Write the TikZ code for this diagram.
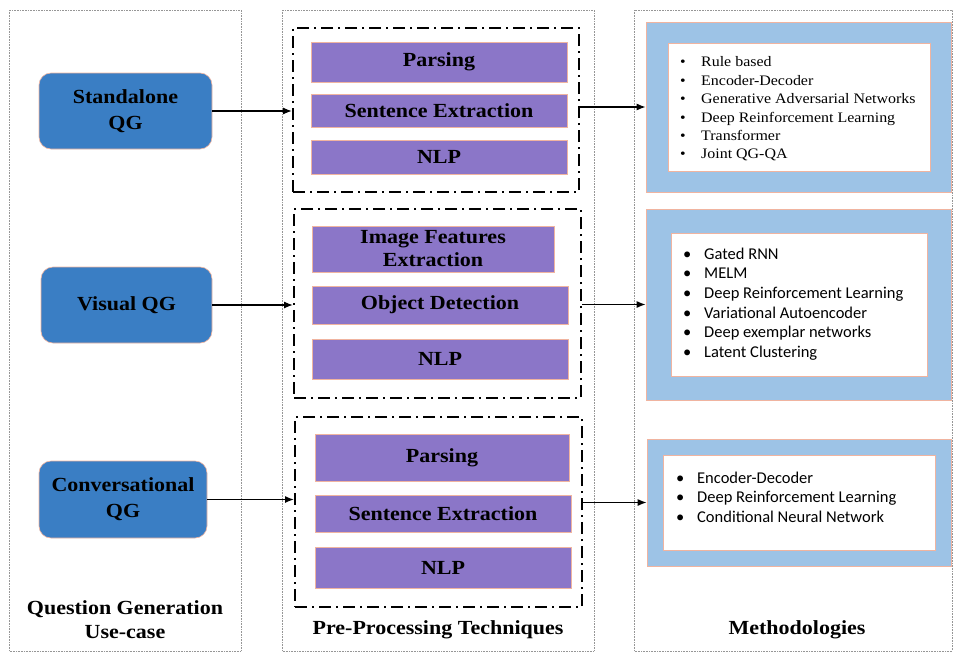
\documentclass[tikz,border=0pt]{standalone}
\usepackage{fontspec}
\setmainfont{Liberation Serif}
\newfontfamily\cambb[FakeStretch=1.1]{Liberation Serif Bold}
\newfontfamily\camb[FakeStretch=1.1]{Liberation Serif}
\newfontfamily\calib{Carlito}
\usetikzlibrary{arrows.meta}
\definecolor{qgblue}{RGB}{58,126,196}
\definecolor{edgepink}{RGB}{240,180,160}
\definecolor{ppurple}{RGB}{139,118,200}
\definecolor{lblue}{RGB}{157,195,230}
\definecolor{panelgray}{RGB}{150,150,150}
\tikzset{
  panel/.style={draw=panelgray, densely dotted, line width=0.6pt},
  usecase/.style={draw=edgepink, fill=qgblue, rounded corners=12pt, line width=0.6pt,
    align=center, font=\cambb\fontsize{20}{26}\selectfont, inner sep=0pt},
  frame/.style={draw=black, line width=2pt, dash pattern=on 12pt off 5pt on 2pt off 5pt, inner sep=0pt},
  tech/.style={draw=edgepink, fill=ppurple, line width=0.6pt, align=center,
    font=\cambb\fontsize{20}{23}\selectfont, inner sep=0pt},
  outerm/.style={draw=edgepink, fill=lblue, line width=0.6pt, inner sep=0pt},
  innerm/.style={draw=edgepink, fill=white, line width=0.6pt, inner sep=0pt},
  listA/.style={align=left, anchor=west, inner sep=0pt, font=\camb\fontsize{14.5}{18.4}\selectfont},
  listB/.style={align=left, anchor=west, inner sep=0pt, font=\calib\fontsize{16.5}{19.6}\selectfont},
  title/.style={align=center, font=\cambb\fontsize{20}{24}\selectfont, inner sep=0pt},
  conn/.style={-{Latex[length=9pt,width=7pt]}, line width=1.3pt},
}
\newcommand{\bl}[1]{\makebox[21pt][l]{\textbullet}#1}
\begin{document}
\begin{tikzpicture}[x=1pt,y=-1pt]
\useasboundingbox (0,0) rectangle (953,653);
% panels
\draw[panel] (9,10) rectangle (241,651);
\draw[panel] (282,10) rectangle (594,651);
\draw[panel] (634,10) rectangle (952,651);
% use cases
\node[usecase, minimum width=173pt, minimum height=76pt] (sa) at (125.5,111) {Standalone\\QG};
\node[usecase, minimum width=171pt, minimum height=76pt] (vq) at (126.5,305) {Visual QG};
\node[usecase, minimum width=168pt, minimum height=77pt] (cq) at (123,499.5) {Conversational\\QG};
\node[title] (t1) at (125,620) {Question Generation\\Use-case};
% frames
\node[frame, minimum width=286pt, minimum height=164pt] (f1) at (436,110) {};
\node[frame, minimum width=287pt, minimum height=189pt] (f2) at (437.5,303.5) {};
\node[frame, minimum width=287pt, minimum height=190pt] (f3) at (438.5,512) {};
% techniques
\node[tech, minimum width=256pt, minimum height=40pt] (p11) at (439,62) {Parsing};
\node[tech, minimum width=256pt, minimum height=33pt] (p12) at (439,110.5) {Sentence Extraction};
\node[tech, minimum width=256pt, minimum height=34pt] (p13) at (439,157) {NLP};
\node[tech, minimum width=242pt, minimum height=46pt] (p21) at (433,249) {Image Features\\Extraction};
\node[tech, minimum width=256pt, minimum height=38pt] (p22) at (440,305) {Object Detection};
\node[tech, minimum width=256pt, minimum height=40pt] (p23) at (440,359) {NLP};
\node[tech, minimum width=254pt, minimum height=47pt] (p31) at (442,457.5) {Parsing};
\node[tech, minimum width=256pt, minimum height=37pt] (p32) at (443,513.5) {Sentence Extraction};
\node[tech, minimum width=256pt, minimum height=41pt] (p33) at (443,567.5) {NLP};
\node[title] (t2) at (438,630) {Pre-Processing Techniques};
% methodologies
\node[outerm, minimum width=305pt, minimum height=170pt] (m1) at (798.5,107) {};
\node[innerm, minimum width=262pt, minimum height=128pt] (i1) at (799,107) {};
\node[outerm, minimum width=305pt, minimum height=191pt] (m2) at (798.5,304.5) {};
\node[innerm, minimum width=256pt, minimum height=143pt] (i2) at (799,304.5) {};
\node[outerm, minimum width=304pt, minimum height=127pt] (m3) at (799,502.5) {};
\node[innerm, minimum width=272pt, minimum height=95pt] (i3) at (799,502.5) {};
\node[listA] (l1) at (680,109) {\bl{Rule based}\\\bl{Encoder-Decoder}\\\bl{Generative Adversarial Networks}\\\bl{Deep Reinforcement Learning}\\\bl{Transformer}\\\bl{Joint QG-QA}};
\node[listB] (l2) at (683,304) {\bl{Gated RNN}\\\bl{MELM}\\\bl{Deep Reinforcement Learning}\\\bl{Variational Autoencoder}\\\bl{Deep exemplar networks}\\\bl{Latent Clustering}};
\node[listB] (l3) at (676,497) {\bl{Encoder-Decoder}\\\bl{Deep Reinforcement Learning}\\\bl{Conditional Neural Network}};
\node[title] (t3) at (797,630) {Methodologies};
% connectors
\draw[conn] (sa.east) -- (sa.east -| f1.west);
\draw[conn] (vq.east) -- (vq.east -| f2.west);
\draw[conn] (cq.east) -- (cq.east -| f3.west);
\draw[conn] (f1.east |- m1.west) -- (m1.west);
\draw[conn] (f2.east |- m2.west) -- (m2.west);
\draw[conn] (f3.east |- m3.west) -- (m3.west);
\end{tikzpicture}
\end{document}
